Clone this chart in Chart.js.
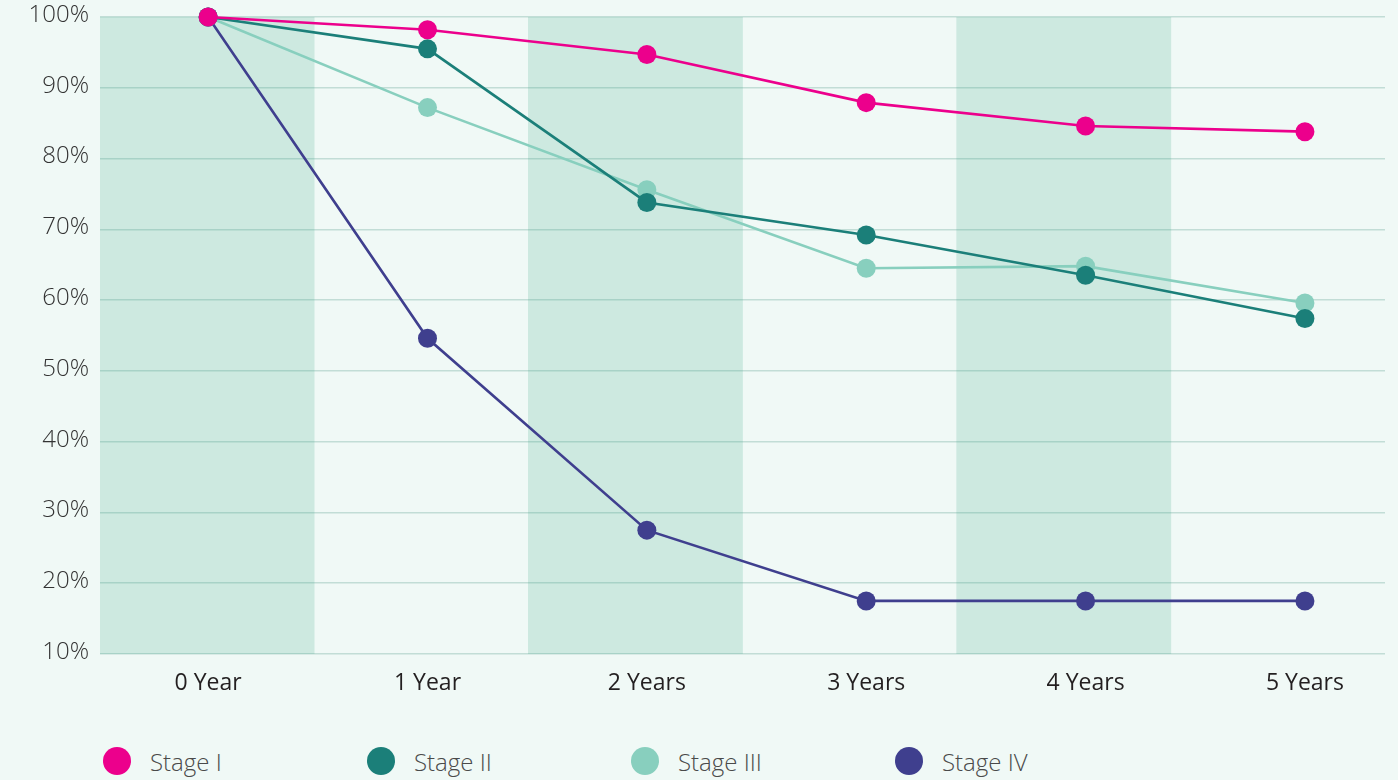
<!DOCTYPE html>
<html>
<head>
<meta charset="utf-8">
<script src="https://cdn.jsdelivr.net/npm/chart.js@4.4.1/dist/chart.umd.min.js"></script>
<style>
  html, body { margin: 0; padding: 0; background: #f0f9f6; }
  #wrap { position: relative; width: 1398px; height: 780px; overflow: hidden; }
  #legend { position: absolute; left: 103px; top: 747px; display: flex;
            font-family: "Open Sans", sans-serif; font-weight: 300; font-size: 24px; color: #4a4a4a; }
  .item { width: 264px; display: flex; align-items: center; height: 28px; }
  .dot { width: 28px; height: 28px; border-radius: 50%; margin-right: 19px; }
</style>
</head>
<body>
<div id="wrap">
  <canvas id="chart" width="1398" height="720"></canvas>
  <div id="legend"></div>
</div>
<script>
'use strict';

// data
var categories = ['0 Year', '1 Year', '2 Years', '3 Years', '4 Years', '5 Years'];
var stageI   = [100, 98.2, 94.7, 87.9, 84.6, 83.8];
var stageII  = [100, 95.5, 73.8, 69.2, 63.5, 57.4];
var stageIII = [100, 87.2, 75.6, 64.5, 64.8, 59.6];
var stageIV  = [100, 54.6, 27.5, 17.5, 17.5, 17.5];
var yTicks = [10, 20, 30, 40, 50, 60, 70, 80, 90, 100];
var seriesNames = ['Stage I', 'Stage II', 'Stage III', 'Stage IV'];
var seriesColors = ['#ec008c', '#1b7f79', '#88cfbe', '#3f3f8e'];
var shadedColumns = [true, false, true, false, true, false];

var allSeries = [stageI, stageII, stageIII, stageIV];

var datasets = allSeries.map(function (values, k) {
  return {
    type: 'line',
    label: seriesNames[k],
    data: values.map(function (v, i) { return { x: i, y: v }; }),
    borderColor: seriesColors[k],
    backgroundColor: seriesColors[k],
    borderWidth: 2.6,
    pointRadius: 9.5,
    pointBorderWidth: 0,
    pointHoverRadius: 9.5,
    tension: 0,
    clip: false,
    xAxisID: 'x',
    yAxisID: 'y',
    order: 0
  };
});

// shaded column bands
datasets.push({
  type: 'bar',
  label: 'bands',
  data: shadedColumns.map(function (s) {
    return s ? [yTicks[0], yTicks[yTicks.length - 1]] : null;
  }),
  backgroundColor: 'rgba(64, 168, 140, 0.2)',
  borderWidth: 0,
  grouped: false,
  barPercentage: 1,
  categoryPercentage: 1,
  xAxisID: 'xb',
  yAxisID: 'y',
  order: 10
});

var ctx = document.getElementById('chart');

new Chart(ctx, {
  data: { labels: categories, datasets: datasets },
  options: {
    responsive: false,
    animation: false,
    layout: { padding: { top: 17, right: 13, left: 0, bottom: 0 } },
    plugins: {
      legend: { display: false },
      tooltip: { enabled: false }
    },
    scales: {
      x: {
        type: 'linear',
        min: -0.493,
        max: 5.365,
        grid: { display: false, drawTicks: false },
        border: { display: false },
        afterBuildTicks: function (s) {
          s.ticks = categories.map(function (c, i) { return { value: i }; });
        },
        afterFit: function (s) { s.height = 66; },
        ticks: {
          padding: 16,
          maxRotation: 0,
          autoSkip: false,
          color: '#231f20',
          font: { family: 'Open Sans', size: 23, weight: 500 },
          callback: function (v) { return categories[v]; }
        }
      },
      xb: {
        type: 'category',
        labels: categories,
        offset: true,
        display: false
      },
      y: {
        min: yTicks[0],
        max: yTicks[yTicks.length - 1],
        afterBuildTicks: function (s) {
          s.ticks = yTicks.map(function (v) { return { value: v }; });
        },
        afterFit: function (s) {
          s.width = 100;
          s.paddingTop = 0;
          s.paddingBottom = 0;
        },
        grid: { color: '#c2ddd6', lineWidth: 1.5, drawTicks: false },
        border: { display: false },
        ticks: {
          padding: 11,
          labelOffset: -2,
          color: '#333',
          font: { family: 'Open Sans', size: 24, weight: 300 },
          callback: function (v) { return v + '%'; }
        }
      }
    }
  }
});

// legend
var legend = document.getElementById('legend');
seriesNames.forEach(function (name, k) {
  var item = document.createElement('div');
  item.className = 'item';
  var dot = document.createElement('span');
  dot.className = 'dot';
  dot.style.background = seriesColors[k];
  var txt = document.createElement('span');
  txt.textContent = name;
  item.appendChild(dot);
  item.appendChild(txt);
  legend.appendChild(item);
});
</script>
</body>
</html>
